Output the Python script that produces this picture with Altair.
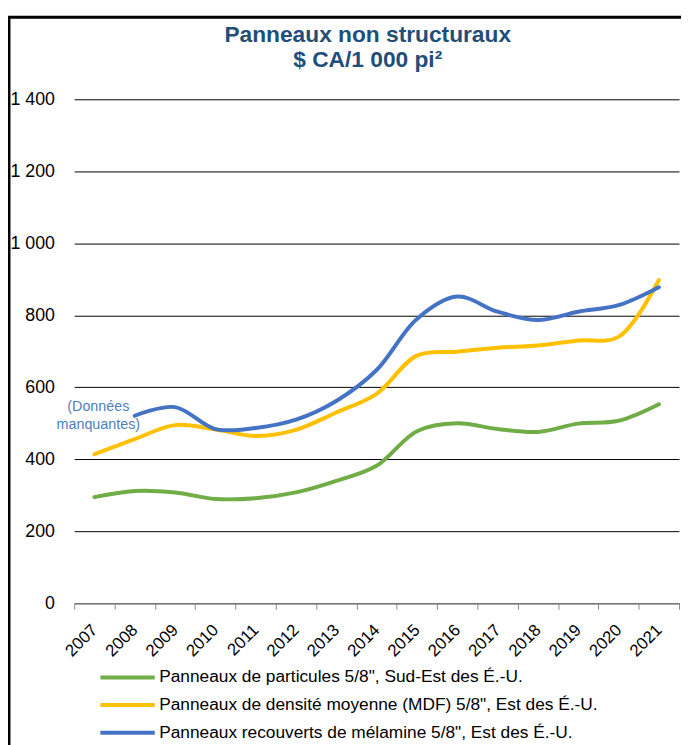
import altair as alt
import pandas as pd

years = [str(y) for y in range(2007, 2022)]
particules = [295, 312, 308, 290, 292, 308, 340, 382, 478, 500, 484, 476, 499, 507, 553]
mdf = [414, 456, 495, 483, 465, 482, 530, 582, 688, 699, 710, 716, 730, 740, 898]
melamine = [None, 521, 545, 484, 487, 510, 562, 648, 790, 852, 810, 787, 810, 828, 878]

series_names = [
    "Panneaux de particules 5/8\", Sud-Est des É.-U.",
    "Panneaux de densité moyenne (MDF) 5/8\", Est des É.-U.",
    "Panneaux recouverts de mélamine 5/8\", Est des É.-U.",
]
series_colors = ["#70AD47", "#FFC000", "#4472C4"]

rows = []
for name, vals in zip(series_names, [particules, mdf, melamine]):
    for y, v in zip(years, vals):
        if v is not None:
            rows.append({"year": y, "value": v, "series": name})
df = pd.DataFrame(rows)

note_year = ["2007"]
note_value = [545]
note_text = ["(Données\nmanquantes)"]
note_df = pd.DataFrame({"year": note_year, "value": note_value, "text": note_text})

FONT = "Liberation Sans, Arial"

x_enc = alt.X(
    "year:O",
    scale=alt.Scale(type="band", paddingInner=0, paddingOuter=0, domain=years),
    axis=alt.Axis(
        title=None,
        labelAngle=-45,
        labelAlign="right",
        labelBaseline="middle",
        labelPadding=18,
        labelFontSize=17,
        labelFont=FONT,
        labelColor="black",
        tickBand="extent",
        tickSize=6,
        tickColor="#888888",
        domainColor="#888888",
        grid=False,
    ),
)
y_enc = alt.Y(
    "value:Q",
    scale=alt.Scale(domain=[0, 1400]),
    axis=alt.Axis(
        title=None,
        values=[0, 200, 400, 600, 800, 1000, 1200, 1400],
        labelExpr="replace(format(datum.value, ','), ',', ' ')",
        labelFontSize=18,
        labelFont=FONT,
        labelColor="black",
        labelPadding=20,
        domain=False,
        ticks=False,
        grid=True,
        gridColor="black",
        gridWidth=1,
    ),
)

lines = alt.Chart(df).mark_line(
    interpolate="catmull-rom", strokeWidth=4, strokeCap="round"
).encode(
    x=x_enc,
    y=y_enc,
    color=alt.Color(
        "series:N",
        scale=alt.Scale(domain=series_names, range=series_colors),
        legend=alt.Legend(
            title=None,
            orient="none",
            legendX=42,
            legendY=573,
            direction="vertical",
            symbolType="M-2.75,0H2.75",
            symbolSize=400,
            symbolStrokeWidth=4,
            labelFontSize=17.5,
            labelFont=FONT,
            labelColor="black",
            labelOffset=20,
            rowPadding=7,
            labelLimit=600,
            padding=0,
        ),
    ),
)

note = alt.Chart(note_df).mark_text(
    lineBreak="\n", fontSize=14.5, font=FONT, color="#4F81BD", dx=4, lineHeight=18
).encode(x=alt.X("year:O"), y=alt.Y("value:Q"), text="text:N")

frame_df = pd.DataFrame({"a": [0]})
frame = alt.Chart(frame_df).mark_rect(
    filled=False, stroke="black", strokeWidth=3
).encode(
    x=alt.value(-66), x2=alt.value(720), y=alt.value(-83), y2=alt.value(800)
)

chart = alt.layer(frame, lines, note).properties(
    width=612,
    height=510,
    padding={"left": 67, "top": 88, "right": 2, "bottom": 140},
    autosize=alt.AutoSizeParams(type="none"),
    title=alt.TitleParams(
        text=["Panneaux non structuraux", "$ CA/1 000 pi²"],
        font=FONT,
        fontSize=23,
        fontWeight="bold",
        color="#1F4E79",
        anchor="middle",
        frame="group",
        lineHeight=25,
        offset=16,
        dx=-9,
        dy=73,
    ),
).configure_view(stroke=None)

chart.save("out.html", embed_options={"renderer": "svg", "actions": False})
